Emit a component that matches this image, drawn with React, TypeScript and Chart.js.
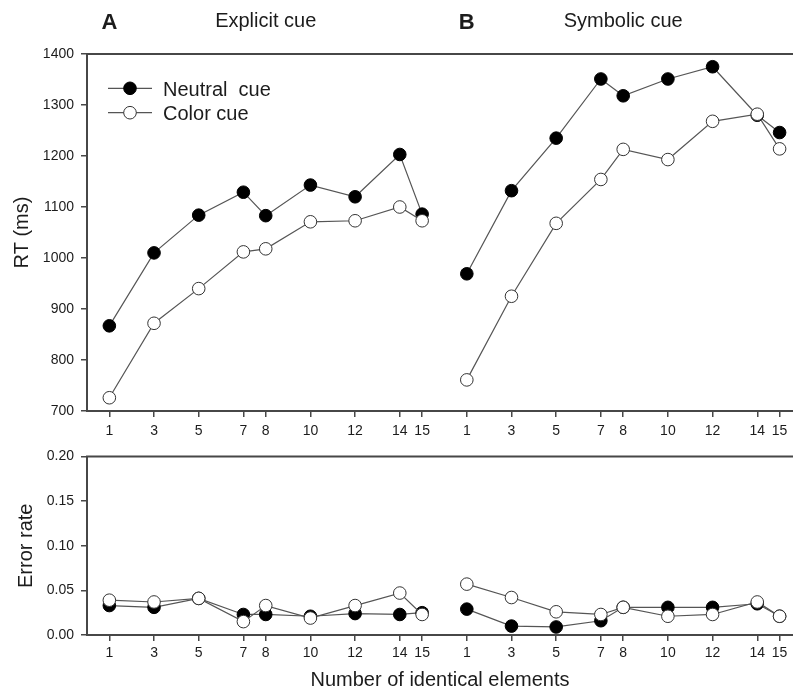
import { useEffect, useRef } from "react";
import { Chart, registerables } from "chart.js";

Chart.register(...registerables);

// Set sizes tested in both cue conditions
const setSizes = [1, 3, 5, 7, 8, 10, 12, 14, 15];

// Mean reaction times (ms)
const rtNeutralExplicit = [867, 1010, 1084, 1129, 1083, 1143, 1120, 1203, 1086];
const rtColorExplicit = [726, 872, 940, 1012, 1018, 1071, 1073, 1100, 1073];
const rtNeutralSymbolic = [969, 1132, 1235, 1351, 1318, 1351, 1375, 1280, 1246];
const rtColorSymbolic = [761, 925, 1068, 1154, 1213, 1193, 1268, 1282, 1214];

// Error rates (proportion)
const errNeutralExplicit = [0.033, 0.031, 0.041, 0.023, 0.023, 0.021, 0.024, 0.023, 0.025];
const errColorExplicit = [0.039, 0.037, 0.041, 0.015, 0.033, 0.019, 0.033, 0.047, 0.023];
const errNeutralSymbolic = [0.029, 0.01, 0.009, 0.016, 0.031, 0.031, 0.031, 0.035, 0.021];
const errColorSymbolic = [0.057, 0.042, 0.026, 0.023, 0.031, 0.021, 0.023, 0.037, 0.021];

const panelLetters = ["A", "B"];
const panelTitles = ["Explicit cue", "Symbolic cue"];
const legendLabels = ["Neutral  cue", "Color cue"];
const rtAxisTitle = "RT (ms)";
const errAxisTitle = "Error rate";
const xAxisTitle = "Number of identical elements";

// Symbolic panel shares the same x scale, shifted to the right
const SYMBOLIC_SHIFT = 16;
const X_MAX = 31.6;
const xTickValues = [...setSizes, ...setSizes.map((s) => s + SYMBOLIC_SHIFT)];

const FONT = "'Liberation Sans', Arial, Helvetica, sans-serif";
const INK = "#1c1c1c";
const AXIS = "#474747";
const LINE = "#555555";

const W = 793;
const TOP_H = 450;
const BOTTOM_TOP = 440;
const BOTTOM_H = 254;

function toPoints(values: number[], shift: number) {
  return setSizes.map((s, i) => ({ x: s + shift, y: values[i] }));
}

function series(values: number[], shift: number, filled: boolean) {
  return {
    data: toPoints(values, shift),
    borderColor: LINE,
    borderWidth: 1.2,
    pointRadius: 6.3,
    pointHoverRadius: 6.3,
    pointBackgroundColor: filled ? "#000" : "#fff",
    pointBorderColor: filled ? "#000" : "#333",
    pointBorderWidth: 1,
    fill: false,
    tension: 0,
    order: filled ? 1 : 0,
  };
}

// Top edge of each plot frame
const frameTop = {
  id: "frameTop",
  afterDraw(chart: any) {
    const { ctx, chartArea } = chart;
    ctx.save();
    ctx.strokeStyle = AXIS;
    ctx.lineWidth = 2;
    ctx.beginPath();
    ctx.moveTo(chartArea.left - 1, chartArea.top);
    ctx.lineTo(chartArea.right, chartArea.top);
    ctx.stroke();
    ctx.restore();
  },
};

// Panel letters and condition titles above the RT plot
const panelHeadings = {
  id: "panelHeadings",
  afterDraw(chart: any) {
    const { ctx } = chart;
    const x = chart.scales.x;
    ctx.save();
    ctx.fillStyle = INK;
    ctx.textAlign = "center";
    ctx.textBaseline = "alphabetic";
    [0, SYMBOLIC_SHIFT].forEach((shift, i) => {
      ctx.font = `bold 22px ${FONT}`;
      ctx.fillText(panelLetters[i], x.getPixelForValue(1 + shift), 28.5);
      ctx.font = `20px ${FONT}`;
      ctx.fillText(panelTitles[i], x.getPixelForValue(8 + shift), 26.5);
    });
    ctx.restore();
  },
};

// Line-and-marker legend inside the explicit-cue RT panel
const markerLegend = {
  id: "markerLegend",
  afterDraw(chart: any) {
    const { ctx, chartArea } = chart;
    const left = chartArea.left;
    const top = chartArea.top;
    const rows = [
      { label: legendLabels[0], fill: "#000", stroke: "#000", y: 34.3 },
      { label: legendLabels[1], fill: "#fff", stroke: "#333", y: 58.7 },
    ];
    ctx.save();
    rows.forEach((r) => {
      const cy = top + r.y;
      ctx.strokeStyle = LINE;
      ctx.lineWidth = 1.2;
      ctx.beginPath();
      ctx.moveTo(left + 21, cy);
      ctx.lineTo(left + 65, cy);
      ctx.stroke();
      ctx.beginPath();
      ctx.arc(left + 43, cy, 6.3, 0, Math.PI * 2);
      ctx.fillStyle = r.fill;
      ctx.fill();
      ctx.strokeStyle = r.stroke;
      ctx.lineWidth = 1;
      ctx.stroke();
      ctx.fillStyle = INK;
      ctx.font = `20px ${FONT}`;
      ctx.textAlign = "left";
      ctx.textBaseline = "alphabetic";
      ctx.fillText(r.label, left + 76, cy + 7.5);
    });
    ctx.restore();
  },
};

function xScale(axisHeight: number, tickPad: number, title?: any) {
  return {
    type: "linear",
    min: 0,
    max: X_MAX,
    afterBuildTicks: (s: any) => {
      s.ticks = xTickValues.map((v) => ({ value: v }));
    },
    afterFit: (s: any) => {
      s.height = axisHeight;
      s.paddingLeft = 0;
      s.paddingRight = 0;
    },
    ticks: {
      autoSkip: false,
      maxRotation: 0,
      padding: tickPad,
      color: INK,
      font: { family: FONT, size: 14 },
      callback: (v: number) => (v > SYMBOLIC_SHIFT ? v - SYMBOLIC_SHIFT : v),
    },
    grid: { drawOnChartArea: false, drawTicks: true, tickLength: 6, color: AXIS, lineWidth: 1.5 },
    border: { display: true, color: AXIS, width: 2 },
    title: title || { display: false },
  };
}

function yScale(min: number, max: number, step: number, title: string, titlePad: number, fmt: (v: number) => string) {
  return {
    min,
    max,
    afterFit: (s: any) => {
      s.width = 87;
    },
    ticks: {
      stepSize: step,
      padding: 7,
      color: INK,
      font: { family: FONT, size: 14 },
      callback: (v: number) => fmt(v),
    },
    grid: { drawOnChartArea: false, drawTicks: true, tickLength: 6, color: AXIS, lineWidth: 1.5 },
    border: { display: true, color: AXIS, width: 2 },
    title: {
      display: true,
      text: title,
      color: INK,
      font: { family: FONT, size: 20 },
      padding: { top: titlePad, bottom: 0 },
    },
  };
}

function baseOptions(padTop: number) {
  return {
    responsive: false,
    maintainAspectRatio: false,
    animation: false,
    layout: { autoPadding: false, padding: { top: padTop, left: 0, right: 0, bottom: 0 } },
    plugins: { legend: { display: false }, tooltip: { enabled: false } },
    events: [],
  };
}

export default function App() {
  const topRef = useRef<HTMLCanvasElement>(null);
  const bottomRef = useRef<HTMLCanvasElement>(null);

  useEffect(() => {
    const rtChart = new Chart(topRef.current as HTMLCanvasElement, {
      type: "line",
      data: {
        datasets: [
          series(rtNeutralExplicit, 0, true),
          series(rtColorExplicit, 0, false),
          series(rtNeutralSymbolic, SYMBOLIC_SHIFT, true),
          series(rtColorSymbolic, SYMBOLIC_SHIFT, false),
        ],
      },
      options: {
        ...baseOptions(54),
        scales: {
          x: xScale(TOP_H - 411, 6),
          y: yScale(700, 1400, 100, rtAxisTitle, 10.5, (v) => String(v)),
        },
      } as any,
      plugins: [frameTop, panelHeadings, markerLegend],
    } as any);

    const errChart = new Chart(bottomRef.current as HTMLCanvasElement, {
      type: "line",
      data: {
        datasets: [
          series(errNeutralExplicit, 0, true),
          series(errColorExplicit, 0, false),
          series(errNeutralSymbolic, SYMBOLIC_SHIFT, true),
          series(errColorSymbolic, SYMBOLIC_SHIFT, false),
        ],
      },
      options: {
        ...baseOptions(16.5),
        scales: {
          x: xScale(BOTTOM_H - 195, 4, {
            display: true,
            text: xAxisTitle,
            color: INK,
            font: { family: FONT, size: 20 },
            padding: { top: 0, bottom: 1.5 },
          }),
          y: yScale(0, 0.2, 0.05, errAxisTitle, 14, (v) => v.toFixed(2)),
        },
      } as any,
      plugins: [frameTop],
    } as any);

    return () => {
      rtChart.destroy();
      errChart.destroy();
    };
  }, []);

  return (
    <div style={{ position: "absolute", left: 0, top: 0, width: W, height: 694, overflow: "hidden", background: "#fff" }}>
      <canvas
        ref={topRef}
        width={W}
        height={TOP_H}
        style={{ position: "absolute", left: 0, top: 0, width: W, height: TOP_H }}
      />
      <canvas
        ref={bottomRef}
        width={W}
        height={BOTTOM_H}
        style={{ position: "absolute", left: 0, top: BOTTOM_TOP, width: W, height: BOTTOM_H }}
      />
    </div>
  );
}
